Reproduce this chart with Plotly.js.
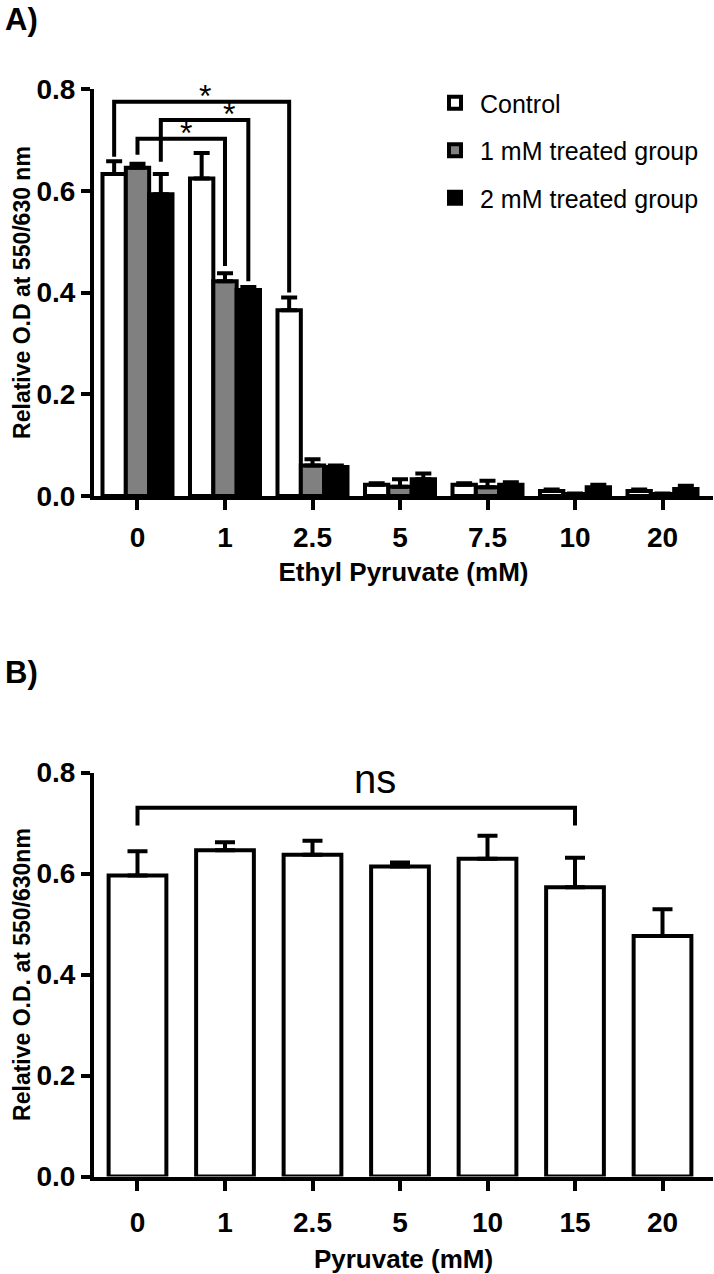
<!DOCTYPE html>
<html>
<head>
<meta charset="utf-8">
<script src="https://cdn.plot.ly/plotly-3.0.1.min.js"></script>
<style>
html,body{margin:0;padding:0;background:#ffffff;}
#chart{width:714px;height:1274px;}
</style>
</head>
<body>
<div id="chart"></div>
<script>
// ---------- Panel A data ----------
const catsA = ['0', '1', '2.5', '5', '7.5', '10', '20'];
const seriesNamesA = ['Control', '1 mM treated group', '2 mM treated group'];
const controlA    = [0.633, 0.624, 0.365, 0.022, 0.022, 0.010, 0.010];
const controlErrA = [0.025, 0.050, 0.025, 0.003, 0.003, 0.003, 0.003];
const mM1A        = [0.645, 0.422, 0.060, 0.018, 0.017, 0.004, 0.004];
const mM1ErrA     = [0.008, 0.016, 0.012, 0.015, 0.013, 0.001, 0.001];
const mM2A        = [0.593, 0.405, 0.057, 0.033, 0.022, 0.017, 0.014];
const mM2ErrA     = [0.040, 0.006, 0.003, 0.011, 0.005, 0.005, 0.006];

// ---------- Panel B data ----------
const catsB   = ['0', '1', '2.5', '5', '10', '15', '20'];
const valuesB = [0.596, 0.646, 0.637, 0.614, 0.629, 0.573, 0.476];
const errB    = [0.048, 0.016, 0.028, 0.008, 0.046, 0.058, 0.053];

// ---------- significance marks ----------
// [fromCategory, fromSeries, toCategory, toSeries, bracketLevel, leftEnd, rightEnd, label, labelCatPos, labelLevel]
const bracketsA = [
  ['0', 1, '1', 1, 0.702, 0.671, 0.452, '*', 0.55, 0.713],
  ['0', 2, '1', 2, 0.739, 0.657, 0.422, '*', 1.05, 0.750],
  ['0', 0, '2.5', 0, 0.775, 0.667, 0.400, '*', 0.77, 0.787]
];
const bracketsB = [
  ['0', '15', 0.730, 0.695, 0.695, 'ns', 2.71, 0.787]
];

const FONT = 'Liberation Sans, Arial, Helvetica, sans-serif';
const BARGAP_A = 0.2;
const BARGAP_B = 0.34;
const LW = 4;

const fillsA = ['#ffffff', '#808080', '#000000'];
const valsA = [controlA, mM1A, mM2A];
const errsA = [controlErrA, mM1ErrA, mM2ErrA];

const traces = seriesNamesA.map((name, i) => ({
  type: 'bar',
  name: name,
  x: catsA,
  y: valsA[i],
  xaxis: 'x', yaxis: 'y',
  legendgroup: 'g' + i,
  marker: {color: fillsA[i], line: {color: '#000000', width: LW}},
  error_y: {type: 'data', symmetric: false, array: errsA[i],
            arrayminus: errsA[i].map(() => 0),
            color: '#000000', thickness: LW, width: 8},
  hoverinfo: 'x+y+name'
}));

traces.push({
  type: 'bar',
  name: 'Pyruvate',
  x: catsB,
  y: valuesB,
  xaxis: 'x2', yaxis: 'y2',
  showlegend: false,
  width: 1 - BARGAP_B,
  marker: {color: '#ffffff', line: {color: '#000000', width: LW}},
  error_y: {type: 'data', symmetric: false, array: errB,
            arrayminus: errB.map(() => 0),
            color: '#000000', thickness: LW, width: 10}
});

// group offset of a series within a category (in category units)
function seriesOffset(s) {
  const w = (1 - BARGAP_A) / seriesNamesA.length;
  return (s - (seriesNamesA.length - 1) / 2) * w;
}

const shapes = [];
const annotations = [];

bracketsA.forEach(b => {
  const x0 = catsA.indexOf(b[0]) + seriesOffset(b[1]);
  const x1 = catsA.indexOf(b[2]) + seriesOffset(b[3]);
  shapes.push({
    type: 'path', xref: 'x', yref: 'y',
    path: 'M' + x0 + ',' + b[5] + ' L' + x0 + ',' + b[4] + ' L' + x1 + ',' + b[4] + ' L' + x1 + ',' + b[6],
    line: {color: '#000000', width: LW}
  });
  annotations.push({
    xref: 'x', yref: 'y', x: b[8], y: b[9], text: b[7], showarrow: false,
    font: {family: FONT, size: 32, color: '#000000'}, xanchor: 'center', yanchor: 'middle'
  });
});

bracketsB.forEach(b => {
  const x0 = catsB.indexOf(b[0]);
  const x1 = catsB.indexOf(b[1]);
  shapes.push({
    type: 'path', xref: 'x2', yref: 'y2',
    path: 'M' + x0 + ',' + b[3] + ' L' + x0 + ',' + b[2] + ' L' + x1 + ',' + b[2] + ' L' + x1 + ',' + b[4],
    line: {color: '#000000', width: LW}
  });
  annotations.push({
    xref: 'x2', yref: 'y2', x: b[6], y: b[7], text: b[5], showarrow: false,
    font: {family: FONT, size: 40, color: '#000000'}, xanchor: 'center', yanchor: 'middle'
  });
});

// panel labels
annotations.push({xref: 'paper', yref: 'paper', x: 3 / 714, y: 1 - 19 / 1274, text: '<b>A)</b>',
  showarrow: false, xanchor: 'left', yanchor: 'middle', font: {family: FONT, size: 31, color: '#000000'}});
annotations.push({xref: 'paper', yref: 'paper', x: 3 / 714, y: 1 - 672 / 1274, text: '<b>B)</b>',
  showarrow: false, xanchor: 'left', yanchor: 'middle', font: {family: FONT, size: 31, color: '#000000'}});

const tickFont = {family: FONT, size: 28, color: '#000000', weight: 'bold'};
const titleFontX = {family: FONT, size: 26, color: '#000000', weight: 'bold'};
const titleFontY = {family: FONT, size: 23, color: '#000000', weight: 'bold'};

const xDomain = [94 / 714, 713 / 714];
const xRange = [-0.497, 6.577];

function xAxis(cats, title, anchor, labelShift, titleGap) {
  return {
    type: 'category', categoryorder: 'array', categoryarray: cats,
    domain: xDomain, range: xRange, anchor: anchor,
    showline: true, linecolor: '#000000', linewidth: LW,
    ticks: 'outside', ticklen: 10, tickwidth: LW, tickcolor: '#000000',
    ticklabelstandoff: labelShift,
    tickfont: tickFont, showgrid: false, zeroline: false, automargin: false,
    title: {text: title, font: titleFontX, standoff: titleGap}
  };
}
function yAxis(domain, title, anchor) {
  return {
    domain: domain, range: [0, 0.8], anchor: anchor,
    tickmode: 'array', tickvals: [0, 0.2, 0.4, 0.6, 0.8], tickformat: '.1f',
    showline: true, linecolor: '#000000', linewidth: LW,
    ticks: 'outside', ticklen: 9, tickwidth: LW, tickcolor: '#000000',
    tickfont: tickFont, showgrid: false, zeroline: false, automargin: false,
    title: {text: title, font: titleFontY, standoff: 0}
  };
}

const layout = {
  width: 714, height: 1274,
  margin: {l: 0, r: 0, t: 0, b: 0},
  paper_bgcolor: '#ffffff', plot_bgcolor: '#ffffff',
  font: {family: FONT, color: '#000000'},
  barmode: 'group', bargap: BARGAP_A, bargroupgap: 0,
  xaxis: xAxis(catsA, 'Ethyl Pyruvate (mM)', 'y', 3, 12),
  yaxis: yAxis([1 - 496 / 1274, 1 - 89 / 1274], 'Relative O.D at 550/630 nm', 'x'),
  xaxis2: xAxis(catsB, 'Pyruvate (mM)', 'y2', 8, 17),
  yaxis2: yAxis([1 - 1176.5 / 1274, 1 - 772.5 / 1274], 'Relative O.D. at 550/630nm', 'x2'),
  showlegend: true,
  legend: {x: 430 / 714, y: 1 - 80 / 1274, xanchor: 'left', yanchor: 'top',
           font: {family: FONT, size: 25, color: '#000000'},
           bgcolor: 'rgba(0,0,0,0)', tracegroupgap: 12, itemwidth: 40, traceorder: 'grouped'},
  shapes: shapes,
  annotations: annotations
};

Plotly.newPlot('chart', traces, layout, {displayModeBar: false, staticPlot: true});
</script>
</body>
</html>
